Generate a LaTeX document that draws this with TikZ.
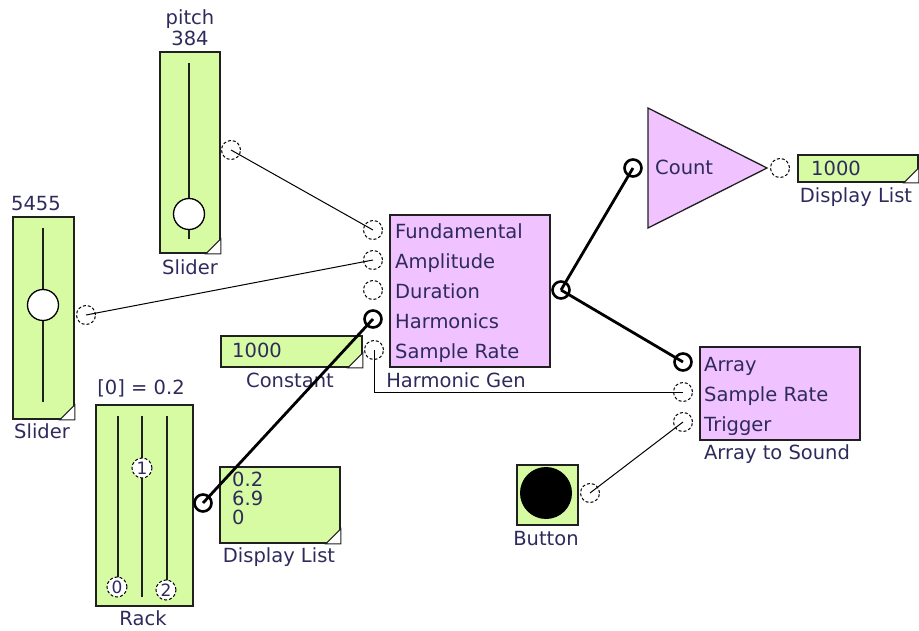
\documentclass[tikz,border=0pt]{standalone}
\usepackage{fontspec}
\setmainfont{DejaVu Sans}
\usetikzlibrary{calc,positioning}
\definecolor{lime}{HTML}{D6FBA3}
\definecolor{pink}{HTML}{F0C2FF}
\definecolor{ink}{HTML}{2E2A5C}
\definecolor{edge}{HTML}{202020}
\tikzset{
  txt/.style={font=\fontsize{19.5}{23}\selectfont,text=ink,inner sep=0pt,text height=16pt,text depth=3pt},
  gbox/.style={draw=edge,line width=1.8pt,fill=lime,anchor=north west,inner sep=0pt},
  pbox/.style={draw=edge,line width=1.8pt,fill=pink,anchor=north west,inner sep=0pt},
  port/.style={circle,draw=black,densely dashed,line width=1pt,minimum size=19pt,inner sep=0pt},
  hot/.style={circle,draw=black,line width=2.6pt,minimum size=17pt,inner sep=0pt},
  knob/.style={circle,draw=black,line width=1.3pt,fill=white,minimum size=31pt,inner sep=0pt},
  rknob/.style={circle,draw=black,densely dashed,line width=1pt,fill=white,minimum size=20pt,inner sep=0pt,font=\fontsize{17}{17}\selectfont,text=ink},
  track/.style={draw=edge,line width=1.5pt},
  wire/.style={draw=black,line width=1pt},
  bus/.style={draw=black,line width=2.8pt},
  dog/.style={fill=white,draw=edge,line width=1pt}
}
\newcommand{\earmark}[1]{\filldraw[dog] ($(#1.south east)+(-15,0)$) -- ($(#1.south east)+(0,-15)$) -- (#1.south east) -- cycle;}
\begin{document}
\begin{tikzpicture}[x=1pt,y=-1pt]
\useasboundingbox (0,0) rectangle (919,631);

% pitch slider
\node[gbox,minimum width=60pt,minimum height=201pt] (pitchsl) at (159,51) {};
\earmark{pitchsl}
\draw[track] (189,63) -- (189,239);
\node[knob] (pitchknob) at (189,214) {};
\node[txt] (pitchname) at (190,18) {pitch};
\node[txt] (pitchval) at (190,39) {384};
\node[txt] (pitchlbl) at (190,268) {Slider};
\node[port] (pPitch) at (231,150) {};

% amplitude slider
\node[gbox,minimum width=61pt,minimum height=202pt] (ampsl) at (12,216) {};
\earmark{ampsl}
\draw[track] (43,228) -- (43,402);
\node[knob] (ampknob) at (43,305) {};
\node[txt] (ampval) at (36,204) {5455};
\node[txt] (amplbl) at (42,432) {Slider};
\node[port] (pAmp) at (86,315) {};

% harmonic generator
\node[pbox,minimum width=160pt,minimum height=152pt] (hgen) at (389,214) {};
\node[txt,anchor=west] (hgFund) at (395,232) {Fundamental};
\node[txt,anchor=west] (hgAmp) at (395,262) {Amplitude};
\node[txt,anchor=west] (hgDur) at (395,292) {Duration};
\node[txt,anchor=west] (hgHarm) at (395,322) {Harmonics};
\node[txt,anchor=west] (hgRate) at (395,352) {Sample Rate};
\node[txt] (hglbl) at (456,381) {Harmonic Gen};
\node[port] (pFund) at (373,230) {};
\node[port] (pAmpIn) at (373,260) {};
\node[port] (pDur) at (373,290) {};
\node[hot] (pHarm) at (373,319) {};
\node[port] (pRate) at (374,350) {};
\node[hot] (pOut) at (561,290) {};

% constant
\node[gbox,minimum width=141pt,minimum height=31pt] (const) at (220,335) {};
\earmark{const}
\node[txt,anchor=west] (constval) at (232,351) {1000};
\node[txt] (constlbl) at (290,381) {Constant};

% count
\draw[line width=1.3pt,draw=edge,fill=pink] (648,108) -- (767,168) -- (648,228) -- cycle;
\node[txt,anchor=west] (countlbl) at (655,168) {Count};
\node[hot] (pCount) at (633,168) {};
\node[port] (pCountOut) at (780,168) {};

% display list (count)
\node[gbox,minimum width=120pt,minimum height=27pt] (disptop) at (797,154) {};
\earmark{disptop}
\node[txt,anchor=west] (disptopval) at (811,169) {1000};
\node[txt] (disptoplbl) at (856,196) {Display List};

% array to sound
\node[pbox,minimum width=160pt,minimum height=93pt] (ats) at (699,346) {};
\node[txt,anchor=west] (atsArr) at (704,365) {Array};
\node[txt,anchor=west] (atsRate) at (704,395) {Sample Rate};
\node[txt,anchor=west] (atsTrig) at (704,425) {Trigger};
\node[txt] (atslbl) at (777,453) {Array to Sound};
\node[hot] (pArr) at (683,362) {};
\node[port] (pAtsRate) at (683,392) {};
\node[port] (pTrig) at (683,422) {};

% button
\node[gbox,minimum width=61pt,minimum height=60pt] (btn) at (516,464) {};
\node[circle,fill=black,minimum size=52pt,inner sep=0pt] (btndot) at (546,493) {};
\node[txt] (btnlbl) at (546,539) {Button};
\node[port] (pBtn) at (590,493) {};

% rack
\node[gbox,minimum width=97pt,minimum height=201pt] (rack) at (95,404) {};
\draw[track] (118,416) -- (118,580);
\draw[track] (142,416) -- (142,597);
\draw[track] (167,416) -- (167,583);
\node[rknob] (rk0) at (117,587) {0};
\node[rknob] (rk1) at (142,468) {1};
\node[rknob] (rk2) at (166,590) {2};
\node[txt] (rackval) at (141,388) {[0] = 0.2};
\node[txt] (racklbl) at (143,619) {Rack};
\node[hot] (pRack) at (203,503) {};

% display list (rack)
\node[gbox,minimum width=120pt,minimum height=76pt] (dispbot) at (219,466) {};
\earmark{dispbot}
\node[txt,anchor=west] (dv1) at (232,480) {0.2};
\node[txt,anchor=west] (dv2) at (232,499) {6.9};
\node[txt,anchor=west] (dv3) at (232,518) {0};
\node[txt] (dispbotlbl) at (279,556) {Display List};

% wires
\draw[wire] (pPitch.center) -- (pFund.center);
\draw[wire] (pAmp.center) -- (pAmpIn.center);
\draw[bus] (pRack.center) -- (pHarm.center);
\draw[wire] (pRate.center) |- (pAtsRate.center);
\draw[bus] (pOut.center) -- (pCount.center);
\draw[bus] (pOut.center) -- (pArr.center);
\draw[wire] (pBtn.center) -- (pTrig.center);
\end{tikzpicture}
\end{document}
